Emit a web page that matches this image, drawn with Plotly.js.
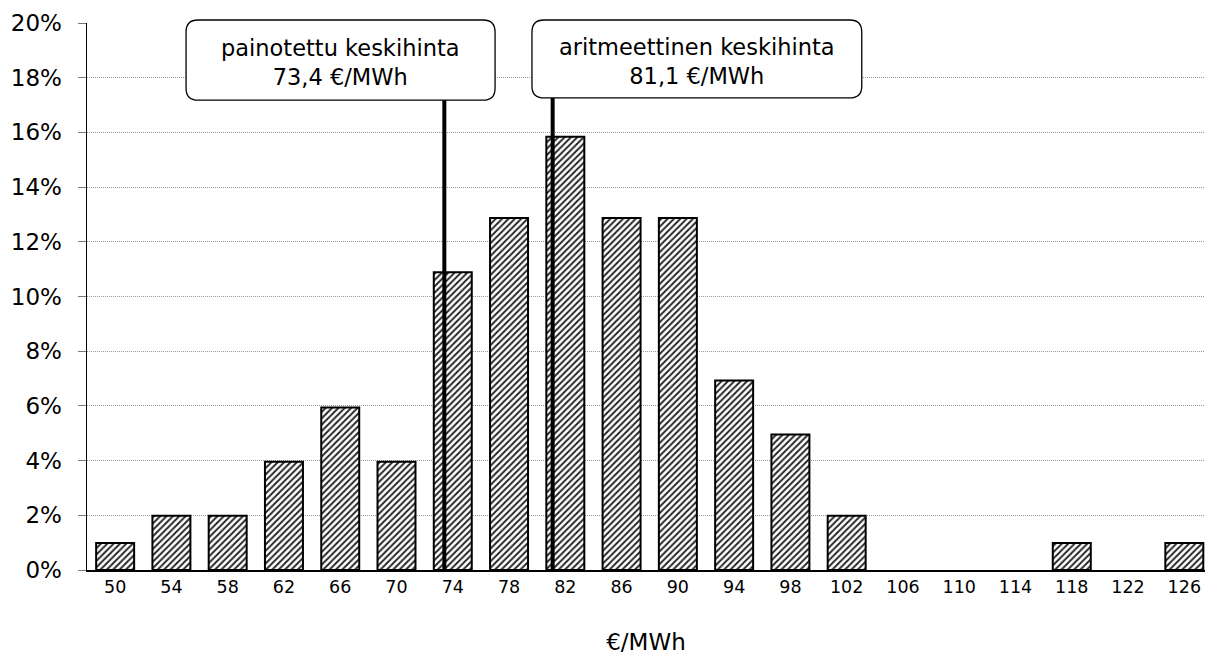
<!DOCTYPE html>
<html>
<head>
<meta charset="utf-8">
<script src="https://cdn.plot.ly/plotly-3.0.1.min.js"></script>
<style>html,body{margin:0;padding:0;background:#fff;}#chart{width:1205px;height:655px;}</style>
</head>
<body>
<div id="chart"></div>
<script>
// Data
const priceBins = [50, 54, 58, 62, 66, 70, 74, 78, 82, 86, 90, 94, 98, 102, 106, 110, 114, 118, 122, 126];
const sharePct = [0.99, 1.98, 1.98, 3.96, 5.94, 3.96, 10.89, 12.87, 15.84, 12.87, 12.87, 6.93, 4.95, 1.98, 0, 0, 0, 0.99, 0, 0.99];
const yTickVals = [0, 2, 4, 6, 8, 10, 12, 14, 16, 18, 20];
const yTickText = ["0%", "2%", "4%", "6%", "8%", "10%", "12%", "14%", "16%", "18%", "20%"];
const meanValues = [73.4, 81.1];
const meanLabels = ["painotettu keskihinta<br>73,4 €/MWh", "aritmeettinen keskihinta<br>81,1 €/MWh"];
const xTitle = "€/MWh";

const FONT = "DejaVu Sans, Verdana, sans-serif";

const trace = {
  type: "bar",
  x: priceBins,
  y: sharePct,
  width: 2.7,
  marker: {
    color: "white",
    line: {color: "#000", width: sharePct.map(v => v > 0 ? 2 : 0)},
    pattern: {shape: "/", size: 4.5, solidity: 0.42, fgcolor: "#222", bgcolor: "white"}
  },
  hoverinfo: "skip"
};

// box geometry (paper coords)
const boxes = [
  {x0: 0.0886, x1: 0.365, y0: 0.859, y1: 1.0055},
  {x0: 0.398, x1: 0.693, y0: 0.863, y1: 1.0055}
];
function roundRect(b) {
  const rx = 0.0107, ry = 0.0219;
  return `M ${b.x0 + rx},${b.y0} L ${b.x1 - rx},${b.y0} Q ${b.x1},${b.y0} ${b.x1},${b.y0 + ry} ` +
    `L ${b.x1},${b.y1 - ry} Q ${b.x1},${b.y1} ${b.x1 - rx},${b.y1} L ${b.x0 + rx},${b.y1} ` +
    `Q ${b.x0},${b.y1} ${b.x0},${b.y1 - ry} L ${b.x0},${b.y0 + ry} Q ${b.x0},${b.y0} ${b.x0 + rx},${b.y0} Z`;
}

const shapes = [];
meanValues.forEach((v, i) => {
  shapes.push({type: "line", xref: "x", yref: "y", x0: v, x1: v, y0: 0, y1: 19,
    line: {color: "#000", width: 4}, layer: "above"});
});
boxes.forEach(b => {
  shapes.push({type: "path", xref: "paper", yref: "paper", path: roundRect(b),
    fillcolor: "white", line: {color: "#000", width: 1.3}, layer: "above"});
});

const annotations = meanLabels.map((t, i) => ({
  xref: "paper", yref: "paper",
  x: (boxes[i].x0 + boxes[i].x1) / 2,
  y: (boxes[i].y0 + boxes[i].y1) / 2 - 0.004,
  text: t, showarrow: false,
  font: {family: FONT, size: 22.5, color: "#000"},
  xanchor: "center", yanchor: "middle"
}));

const layout = {
  width: 1205, height: 655,
  margin: {l: 87, r: 0, t: 23, b: 85, pad: 0},
  paper_bgcolor: "white", plot_bgcolor: "white",
  showlegend: false,
  font: {family: FONT, color: "#000"},
  bargap: 0.3,
  xaxis: {
    range: [48.0, 127.47],
    tickvals: priceBins,
    ticktext: priceBins.map(String),
    tickfont: {family: FONT, size: 17.5, color: "#000"},
    showline: true, linecolor: "#000", linewidth: 2,
    ticks: "", showgrid: false, zeroline: false,
    title: {text: xTitle, font: {family: FONT, size: 23, color: "#000"}, standoff: 46}
  },
  yaxis: {
    range: [0, 20],
    tickvals: yTickVals,
    ticktext: yTickText,
    tickfont: {family: FONT, size: 23, color: "#000"},
    showline: true, linecolor: "#000", linewidth: 1.5,
    ticks: "outside", ticklen: 8, tickcolor: "#777", tickwidth: 1,
    ticklabelstandoff: 11,
    showgrid: true, gridcolor: "#999", griddash: "1px,1px", gridwidth: 1,
    zeroline: false
  },
  shapes: shapes,
  annotations: annotations
};

Plotly.newPlot("chart", [trace], layout, {displayModeBar: false, staticPlot: true});
</script>
</body>
</html>
